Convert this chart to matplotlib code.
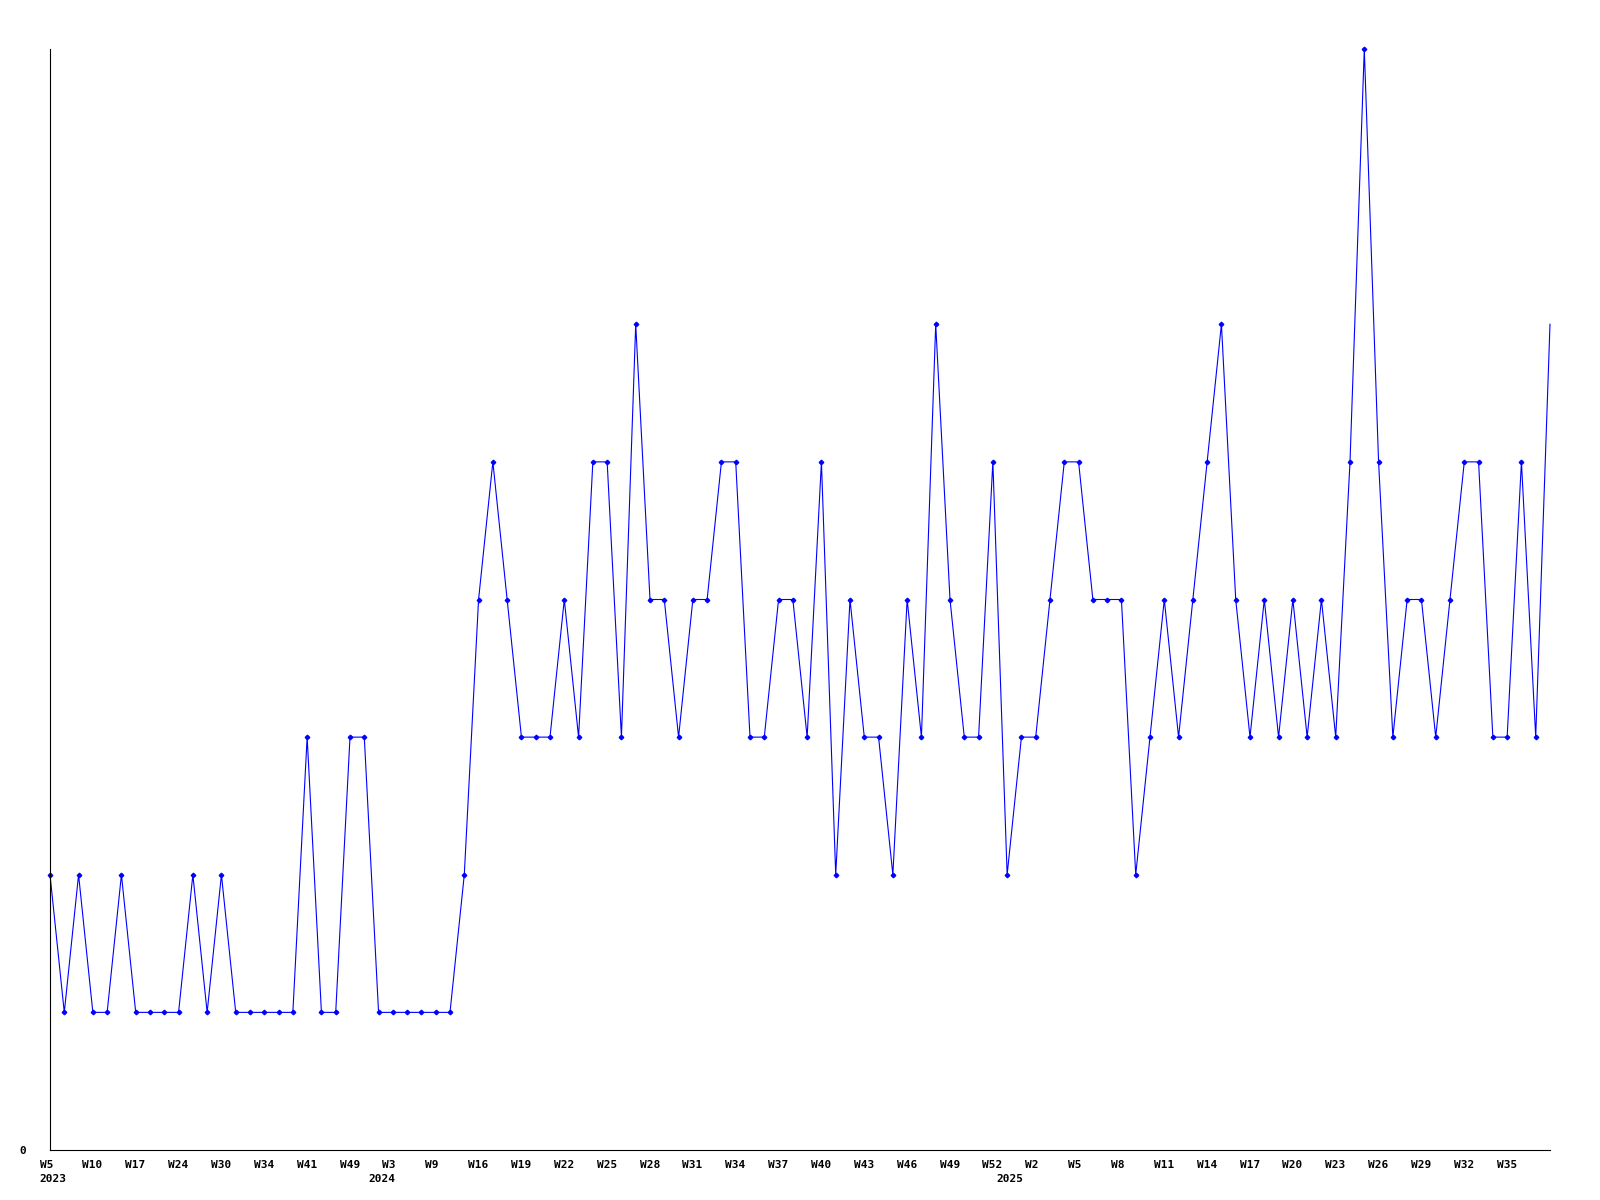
import matplotlib
matplotlib.use("Agg")
import matplotlib.pyplot as plt
from matplotlib.transforms import ScaledTranslation

# weekly counts, one point per week in the data
counts = [2, 1, 2, 1, 1, 2, 1, 1, 1, 1,
          2, 1, 2, 1, 1, 1, 1, 1, 3, 1,
          1, 3, 3, 1, 1, 1, 1, 1, 1, 2,
          4, 5, 4, 3, 3, 3, 4, 3, 5, 5,
          3, 6, 4, 4, 3, 4, 4, 5, 5, 3,
          3, 4, 4, 3, 5, 2, 4, 3, 3, 2,
          4, 3, 6, 4, 3, 3, 5, 2, 3, 3,
          4, 5, 5, 4, 4, 4, 2, 3, 4, 3,
          4, 5, 6, 4, 3, 4, 3, 4, 3, 4,
          3, 5, 8, 5, 3, 4, 4, 3, 4, 5,
          5, 3, 3, 5, 3, 6]

# every third point carries a week label (the last point has none)
week_labels = ["W5", "W10", "W17", "W24", "W30", "W34", "W41", "W49", "W3", "W9",
               "W16", "W19", "W22", "W25", "W28", "W31", "W34", "W37", "W40", "W43",
               "W46", "W49", "W52", "W2", "W5", "W8", "W11", "W14", "W17", "W20",
               "W23", "W26", "W29", "W32", "W35"]
year_labels = ["2023", "2024", "2025"]
year_pos = [0, 23, 67]

x = list(range(len(counts)))
blue = "#0000ff"

fig = plt.figure(figsize=(16, 12), dpi=100)
ax = fig.add_axes([50 / 1600, 50 / 1200, 1500 / 1600, 1101 / 1200])

# the current (unfinished) week is drawn without a marker
ax.plot(x, counts, color=blue, lw=0.8, marker="D", ms=2.3,
        mfc=blue, mec=blue, clip_on=False, markevery=x[:-1])

ax.set_xlim(0, len(counts) - 1)
ax.set_ylim(0, 8)

for side in ["top", "right"]:
    ax.spines[side].set_visible(False)
for side in ["left", "bottom"]:
    ax.spines[side].set_color("black")
    ax.spines[side].set_linewidth(0.8)

font = dict(family="DejaVu Sans Mono", weight="bold", size=8)

ax.set_yticks([0])
ax.set_yticklabels(["0"], **font)
ax.tick_params(axis="y", length=0, pad=17)

ax.set_xticks(x[:len(week_labels) * 3:3])
ax.set_xticklabels(week_labels, **font)
ax.tick_params(axis="x", length=0, pad=7)
shift = ScaledTranslation(-10.5 / 100, 0, fig.dpi_scale_trans)
for lab in ax.get_xticklabels():
    lab.set_horizontalalignment("left")
    lab.set_transform(lab.get_transform() + shift)

ytrans = ax.get_xaxis_transform() + shift
for pos, yr in zip(year_pos, year_labels):
    ax.text(pos, -24 / 1101, yr, transform=ytrans, ha="left", va="top", **font)

fig.savefig("out.png", dpi=100)
